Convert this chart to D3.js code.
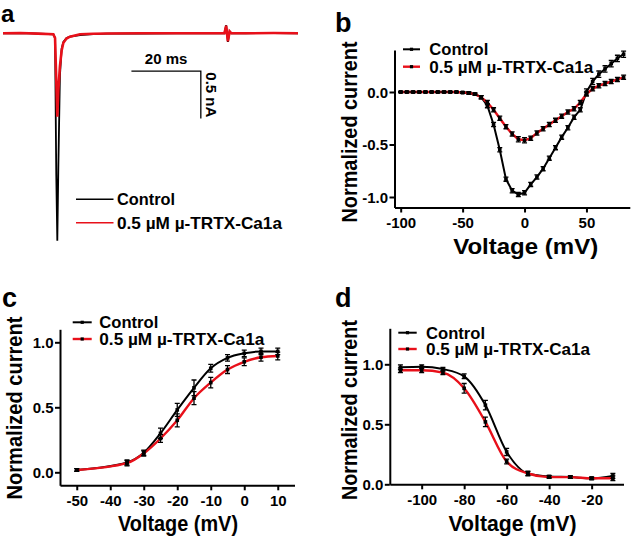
<!DOCTYPE html>
<html><head><meta charset="utf-8">
<script src="https://cdn.jsdelivr.net/npm/d3@7"></script>
<style>
body{margin:0;background:#fff}
text{font-family:"Liberation Sans",Arial,Helvetica,sans-serif;font-weight:bold;fill:#000}
</style>
</head><body>
<svg id="fig" width="633" height="540"></svg>
<script>
// ---------- DATA ----------
const seriesLabels = ["Control", "0.5 \u00b5M \u00b5-TRTX-Ca1a"];
const panelLetters = ["a", "b", "c", "d"];

// panel a: current traces (time in ms, current in nA)
const traceTime    = [0, 5, 10, 14.5, 15.0, 15.35, 15.65, 15.95, 16.4, 16.9, 17.4, 18.3, 19.3, 22.2, 26, 30, 40, 50, 63.8, 64.3, 64.8, 65.3, 65.8, 70, 78, 85];
const traceControl = [0, 0.003, -0.003, -0.01, -0.05, -1.5, -2.19, -1.4, -0.45, -0.16, -0.09, -0.05, -0.035, -0.018, -0.008, -0.004, -0.002, 0, 0, 0.085, -0.09, 0.02, 0, 0, 0.003, 0];
const traceToxin   = [0, 0.003, -0.003, -0.01, -0.05, -0.5, -0.88, -0.6, -0.35, -0.18, -0.1, -0.055, -0.035, -0.01, -0.004, -0.002, 0, 0, 0, 0.08, -0.085, 0.02, 0, 0, 0.003, 0];
const scaleBarTime = 20;   // ms
const scaleBarCurrent = 0.5; // nA
const scaleBarLabels = ["20 ms", "0.5 nA"];

// panel b: current-voltage relationship
const ivVoltage   = [-100,-95,-90,-85,-80,-75,-70,-65,-60,-55,-50,-45,-40,-35,-30,-25,-20,-15,-10,-5,0,5,10,15,20,25,30,35,40,45,50,55,60,65,70,75,80];
const ivControl   = [0,0,0,0,0,0,0,0,0,0,-0.005,-0.01,-0.02,-0.05,-0.13,-0.31,-0.55,-0.83,-0.94,-0.975,-0.96,-0.88,-0.81,-0.73,-0.63,-0.53,-0.43,-0.34,-0.24,-0.17,0.0,0.1,0.17,0.22,0.27,0.32,0.36];
const ivControlErr= [0.005,0.005,0.005,0.005,0.005,0.005,0.005,0.005,0.005,0.005,0.008,0.01,0.01,0.015,0.02,0.02,0.02,0.02,0.02,0.02,0.02,0.02,0.02,0.02,0.02,0.02,0.02,0.02,0.02,0.02,0.03,0.03,0.03,0.03,0.03,0.03,0.03];
const ivToxin     = [0,0,0,0,0,0,0,0,0,0,-0.005,-0.01,-0.02,-0.05,-0.10,-0.17,-0.25,-0.33,-0.40,-0.45,-0.46,-0.44,-0.39,-0.35,-0.31,-0.27,-0.23,-0.19,-0.16,-0.10,-0.02,0.03,0.06,0.08,0.10,0.12,0.14];
const ivToxinErr  = [0.005,0.005,0.005,0.005,0.005,0.005,0.005,0.005,0.005,0.005,0.008,0.01,0.01,0.015,0.02,0.02,0.02,0.02,0.02,0.025,0.025,0.02,0.02,0.02,0.02,0.02,0.02,0.02,0.02,0.02,0.02,0.02,0.02,0.02,0.02,0.02,0.02];
const ivXTicks = [-100, -50, 0, 50];
const ivYTicks = [-1.0, -0.5, 0.0];

// panel c: activation
const actVoltage    = [-50,-35,-30,-25,-20,-15,-10,-5,0,5,10];
const actControl    = [0.018,0.075,0.15,0.30,0.48,0.65,0.80,0.88,0.915,0.93,0.93];
const actControlErr = [0.01,0.02,0.02,0.04,0.05,0.06,0.03,0.025,0.025,0.025,0.025];
const actToxin      = [0.018,0.07,0.145,0.26,0.40,0.57,0.69,0.79,0.85,0.885,0.895];
const actToxinErr   = [0.01,0.02,0.02,0.03,0.05,0.05,0.04,0.03,0.03,0.03,0.03];
const actXTicks = [-50, -40, -30, -20, -10, 0, 10];
const actYTicks = [0.0, 0.5, 1.0];

// panel d: steady-state inactivation
const inactVoltage    = [-110,-100,-90,-80,-70,-60,-50,-40,-30,-20,-10];
const inactControl    = [0.975,0.98,0.96,0.90,0.66,0.27,0.09,0.065,0.06,0.05,0.07];
const inactControlErr = [0.02,0.015,0.015,0.02,0.04,0.03,0.02,0.01,0.01,0.01,0.02];
const inactToxin      = [0.95,0.95,0.93,0.80,0.52,0.19,0.09,0.06,0.06,0.05,0.05];
const inactToxinErr   = [0.02,0.02,0.015,0.04,0.04,0.02,0.015,0.01,0.01,0.01,0.02];
const inactXTicks = [-100, -80, -60, -40, -20];
const inactYTicks = [0.0, 0.5, 1.0];

// ---------- DRAWING ----------
const svg = d3.select("#fig");
const RED = "#e8101a";

function addText(g, str, x, y, size, opts = {}) {
  const t = g.append("text").attr("x", x).attr("y", y).attr("font-size", size).text(str);
  if (opts.anchor) t.attr("text-anchor", opts.anchor);
  if (opts.len) t.attr("textLength", opts.len).attr("lengthAdjust", "spacingAndGlyphs");
  if (opts.rotate !== undefined) t.attr("transform", `rotate(${opts.rotate},${x},${y})`);
  return t;
}

// ---- panel a ----
(function () {
  const g = svg.append("g");
  const x = d3.scaleLinear().domain([0, 85]).range([3, 298]);
  const y = d3.scaleLinear().domain([0, -2.2]).range([33.3, 241.6]);
  const line = d3.line().x((d, i) => x(traceTime[i])).y(d => y(d));
  g.append("path").attr("d", line(traceControl)).attr("fill", "none").attr("stroke", "#000").attr("stroke-width", 1.8);
  g.append("path").attr("d", line(traceToxin)).attr("fill", "none").attr("stroke", RED).attr("stroke-width", 2.6);
  // scale bars
  const t0 = 37, i0 = -0.4;
  g.append("path")
    .attr("d", `M${x(t0)},${y(i0)}H${x(t0 + scaleBarTime)}V${y(i0 - scaleBarCurrent)}`)
    .attr("fill", "none").attr("stroke", "#000").attr("stroke-width", 1.3);
  addText(g, scaleBarLabels[0], (x(t0) + x(t0 + scaleBarTime)) / 2, 64, 15, { anchor: "middle" });
  addText(g, scaleBarLabels[1], x(t0 + scaleBarTime) + 5.5, (y(i0) + y(i0 - scaleBarCurrent)) / 2, 15, { anchor: "middle", rotate: 90 });
  // legend
  const lg = [[199.3, "#000"], [222.7, RED]];
  lg.forEach(([yy, c], k) => {
    g.append("line").attr("x1", 76).attr("x2", 113.5).attr("y1", yy).attr("y2", yy).attr("stroke", c).attr("stroke-width", 1.6);
    addText(g, seriesLabels[k], 117, yy + 6, 16.5, { len: k ? 165 : 58 });
  });
  addText(g, panelLetters[0], 1, 22, 24);
})();

function drawXY(cfg) {
  const g = svg.append("g");
  const x = d3.scaleLinear().domain(cfg.xDomain).range(cfg.xRange);
  const y = d3.scaleLinear().domain(cfg.yDomain).range(cfg.yRange);
  const fmtY = d => d.toFixed(1);
  const xa = g.append("g").attr("transform", `translate(0,${cfg.yRange[0]})`)
    .call(d3.axisBottom(x).tickValues(cfg.xTicks).tickFormat(d => String(d)).tickSize(5).tickSizeOuter(0).tickPadding(4));
  const ya = g.append("g").attr("transform", `translate(${cfg.xRange[0]},0)`)
    .call(d3.axisLeft(y).tickValues(cfg.yTicks).tickFormat(fmtY).tickSize(5).tickSizeOuter(0).tickPadding(1.5));
  [xa, ya].forEach(a => {
    a.select(".domain").attr("stroke", "#000").attr("stroke-width", 2);
    a.selectAll(".tick line").attr("stroke", "#000").attr("stroke-width", 2);
    a.selectAll(".tick text").attr("font-size", cfg.tickSize).attr("font-family", null).attr("fill", "#000");
  });
  ya.selectAll(".tick text").attr("dy", "0.36em");
  xa.selectAll(".tick text").attr("dy", "0.78em");
  const lineGen = d3.line().x((d, i) => x(cfg.xs[i])).y(d => y(d)).curve(cfg.curve);
  const series = [[cfg.s1, cfg.e1, "#000", 2], [cfg.s2, cfg.e2, RED, 2.4]];
  series.forEach(([vals, errs, col, w]) => {
    g.append("path").attr("d", lineGen(vals)).attr("fill", "none").attr("stroke", col).attr("stroke-width", w);
  });
  series.forEach(([vals, errs]) => {
    const eg = g.append("g");
    vals.forEach((v, i) => {
      const cx = x(cfg.xs[i]);
      const yt = y(v + errs[i]), yb = y(v - errs[i]);
      eg.append("path").attr("d", `M${cx},${yt}V${yb}M${cx - 2.5},${yt}H${cx + 2.5}M${cx - 2.5},${yb}H${cx + 2.5}`)
        .attr("stroke", "#000").attr("stroke-width", 1.3).attr("fill", "none");
      eg.append("rect").attr("x", cx - 1.8).attr("y", y(v) - 1.8).attr("width", 3.6).attr("height", 3.6).attr("fill", "#000");
    });
  });
  // legend
  cfg.legend.forEach(([lx1, lx2, ly, tx, len], k) => {
    g.append("line").attr("x1", lx1).attr("x2", lx2).attr("y1", ly).attr("y2", ly)
      .attr("stroke", k ? RED : "#000").attr("stroke-width", k ? 2.4 : 2);
    g.append("rect").attr("x", (lx1 + lx2) / 2 - 1.6).attr("y", ly - 1.6).attr("width", 3.2).attr("height", 3.2).attr("fill", "#000");
    addText(g, seriesLabels[k], tx, ly + 6, cfg.legendSize, { len });
  });
  // titles
  addText(g, "Voltage (mV)", cfg.xTitle[0], cfg.xTitle[1], cfg.titleSize, { anchor: "middle", len: cfg.xTitle[2] });
  addText(g, "Normalized current", cfg.yTitle[0], cfg.yTitle[1], cfg.titleSize, { anchor: "middle", rotate: -90, len: cfg.yTitle[2] });
  addText(g, cfg.letter, cfg.letterPos[0], cfg.letterPos[1], 27);
}

drawXY({
  xDomain: [-105, 85], xRange: [394.5, 629.8],
  yDomain: [-1.1, 0.4], yRange: [207.5, 50],
  xTicks: ivXTicks, yTicks: ivYTicks, tickSize: 15,
  xs: ivVoltage, s1: ivControl, e1: ivControlErr, s2: ivToxin, e2: ivToxinErr,
  curve: d3.curveLinear,
  legend: [[403, 420, 49.3, 429.3, 59], [403, 420, 66.7, 429.3, 164]], legendSize: 16,
  xTitle: [525.7, 254, 145], yTitle: [357, 132, 181], titleSize: 22,
  letter: panelLetters[1], letterPos: [335, 31.5]
});

drawXY({
  xDomain: [-55, 15], xRange: [60, 294.5],
  yDomain: [-0.1, 1.1], yRange: [485.3, 329.3],
  xTicks: actXTicks, yTicks: actYTicks, tickSize: 15,
  xs: actVoltage, s1: actControl, e1: actControlErr, s2: actToxin, e2: actToxinErr,
  curve: d3.curveMonotoneX,
  legend: [[72.7, 91.7, 322.3, 99.3, 59], [72.7, 91.7, 339, 99.3, 165]], legendSize: 16,
  xTitle: [178, 531, 120], yTitle: [22, 408, 183], titleSize: 22,
  letter: panelLetters[2], letterPos: [2, 306.5]
});

drawXY({
  xDomain: [-115, -5], xRange: [389.8, 623.5],
  yDomain: [0, 1.3], yRange: [484.3, 328.3],
  xTicks: inactXTicks, yTicks: inactYTicks, tickSize: 15,
  xs: inactVoltage, s1: inactControl, e1: inactControlErr, s2: inactToxin, e2: inactToxinErr,
  curve: d3.curveMonotoneX,
  legend: [[398.3, 416.7, 332.7, 426, 59], [398.3, 416.7, 349, 426, 164]], legendSize: 16,
  xTitle: [512.5, 531, 128], yTitle: [357, 410, 180], titleSize: 22,
  letter: panelLetters[3], letterPos: [335, 306.5]
});
</script>
</body></html>
